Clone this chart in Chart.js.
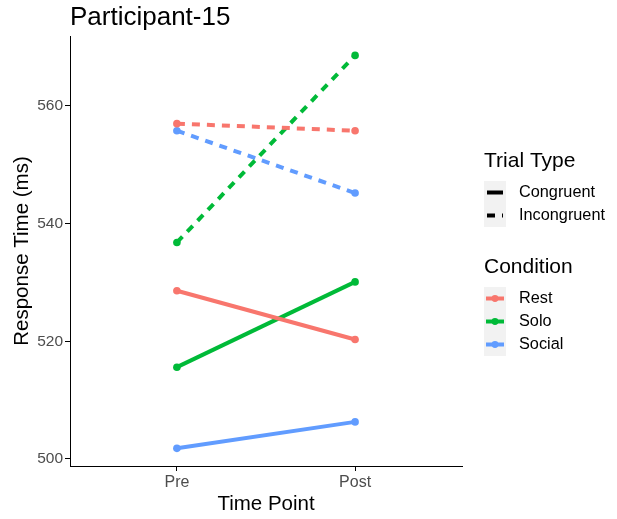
<!DOCTYPE html>
<html>
<head>
<meta charset="utf-8">
<script src="https://cdn.jsdelivr.net/npm/chart.js@4"></script>
<style>
  html, body { margin: 0; padding: 0; background: #fff; }
  #wrap { width: 617px; height: 519px; position: relative; }
</style>
</head>
<body>
<div id="wrap"><canvas id="chart" width="617" height="519"></canvas></div>
<script>
var timePoints = ['Pre', 'Post'];
var conditions = ['Rest', 'Solo', 'Social'];
var colors = ['#F8766D', '#00BA38', '#619CFF'];
var trialTypes = ['Congruent', 'Incongruent'];

// response times (ms), [Pre, Post]
var restCongruent = [528.6, 520.3];
var soloCongruent = [515.6, 530.1];
var socialCongruent = [501.8, 506.3];
var restIncongruent = [557.0, 555.8];
var soloIncongruent = [536.8, 568.6];
var socialIncongruent = [555.8, 545.2];

var yTicks = [500, 520, 540, 560];

var FONT = '"Liberation Sans", Arial, sans-serif';

function pts(vals) {
  return vals.map(function (v, i) { return { x: i + 1, y: v }; });
}

function series(label, vals, color, dashed) {
  return {
    label: label,
    data: pts(vals),
    borderColor: color,
    backgroundColor: color,
    borderWidth: 4,
    borderDash: dashed ? [8, 7] : [],
    borderCapStyle: 'butt',
    pointRadius: 3.8,
    pointHoverRadius: 3.8,
    pointBorderWidth: 0,
    tension: 0
  };
}

var datasets = [
  series('Rest Congruent', restCongruent, colors[0], false),
  series('Solo Congruent', soloCongruent, colors[1], false),
  series('Social Congruent', socialCongruent, colors[2], false),
  series('Rest Incongruent', restIncongruent, colors[0], true),
  series('Solo Incongruent', soloIncongruent, colors[1], true),
  series('Social Incongruent', socialIncongruent, colors[2], true)
];

// title + two-part legend, ggplot style
var decor = {
  id: 'decor',
  afterDraw: function (chart) {
    var ctx = chart.ctx;
    ctx.save();
    ctx.fillStyle = '#000';
    ctx.textBaseline = 'middle';
    ctx.textAlign = 'left';
    ctx.font = '26px ' + FONT;
    ctx.fillText('Participant-15', chart.chartArea.left, 18);

    var kx = 484, kw = 22, kh = 23;
    ctx.font = '21px ' + FONT;
    ctx.fillText('Trial Type', kx, 161);
    trialTypes.forEach(function (t, i) {
      var y0 = 181 + i * kh;
      ctx.fillStyle = '#F2F2F2';
      ctx.fillRect(kx, y0, kw, kh);
      ctx.strokeStyle = '#000';
      ctx.lineWidth = 4;
      ctx.setLineDash(i === 1 ? [8, 7] : []);
      ctx.beginPath();
      ctx.moveTo(kx + 3, y0 + kh / 2);
      ctx.lineTo(kx + kw - 3, y0 + kh / 2);
      ctx.stroke();
      ctx.setLineDash([]);
      ctx.fillStyle = '#000';
      ctx.font = '16.3px ' + FONT;
      ctx.fillText(t, 519, y0 + kh / 2);
    });

    ctx.font = '21px ' + FONT;
    ctx.fillText('Condition', kx, 267);
    conditions.forEach(function (c, i) {
      var y0 = 287 + i * kh;
      ctx.fillStyle = '#F2F2F2';
      ctx.fillRect(kx, y0, kw, kh);
      ctx.strokeStyle = colors[i];
      ctx.fillStyle = colors[i];
      ctx.lineWidth = 4;
      ctx.beginPath();
      ctx.moveTo(kx + 2, y0 + kh / 2);
      ctx.lineTo(kx + kw - 2, y0 + kh / 2);
      ctx.stroke();
      ctx.beginPath();
      ctx.arc(kx + kw / 2, y0 + kh / 2, 3.4, 0, Math.PI * 2);
      ctx.fill();
      ctx.fillStyle = '#000';
      ctx.font = '16.3px ' + FONT;
      ctx.fillText(c, 519, y0 + kh / 2);
    });
    ctx.restore();
  }
};

new Chart(document.getElementById('chart'), {
  type: 'line',
  data: { datasets: datasets },
  plugins: [decor],
  options: {
    responsive: false,
    animation: false,
    layout: { padding: { top: 36, right: 155, left: 0, bottom: 0 } },
    plugins: {
      legend: { display: false },
      title: { display: false },
      tooltip: { enabled: false }
    },
    scales: {
      x: {
        type: 'linear',
        min: 0.4,
        max: 2.6,
        afterBuildTicks: function (s) {
          s.ticks = timePoints.map(function (t, i) { return { value: i + 1 }; });
        },
        afterFit: function (s) { s.height = 53; },
        ticks: {
          callback: function (v) { return timePoints[v - 1]; },
          color: '#4D4D4D',
          font: { family: FONT, size: 16 },
          padding: 2,
          maxRotation: 0
        },
        grid: { display: true, drawOnChartArea: false, drawTicks: true, tickLength: 5, tickColor: '#000', tickWidth: 1 },
        border: { display: true, color: '#000', width: 1 },
        title: { display: true, text: 'Time Point', color: '#000', font: { family: FONT, size: 20.5 }, padding: { top: 0, bottom: 2 } }
      },
      y: {
        type: 'linear',
        min: 498.8,
        max: 571.9,
        afterBuildTicks: function (s) {
          s.ticks = yTicks.map(function (v) { return { value: v }; });
        },
        afterFit: function (s) { s.width = 70; },
        ticks: {
          color: '#4D4D4D',
          font: { family: FONT, size: 15.5 },
          padding: 2
        },
        grid: { display: true, drawOnChartArea: false, drawTicks: true, tickLength: 5, tickColor: '#000', tickWidth: 1 },
        border: { display: true, color: '#000', width: 1 },
        title: { display: true, text: 'Response Time (ms)', color: '#000', font: { family: FONT, size: 20.5 }, padding: { top: 10, bottom: 0 } }
      }
    }
  }
});
</script>
</body>
</html>
